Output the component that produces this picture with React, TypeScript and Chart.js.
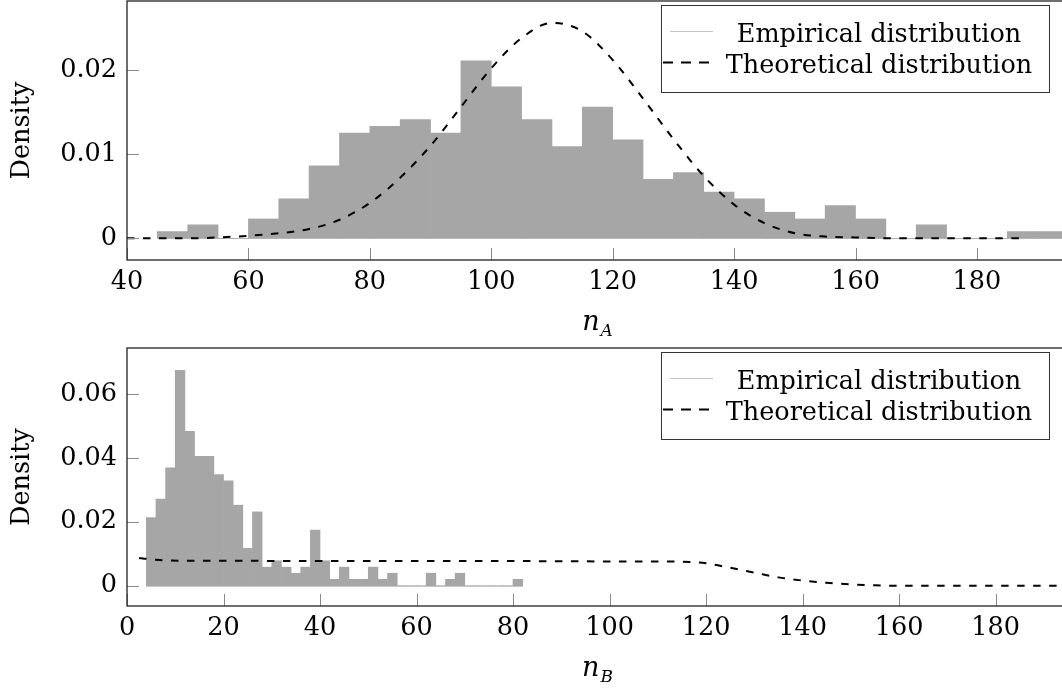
import React, { useEffect, useRef } from "react";
import { Chart, registerables } from "chart.js";

Chart.register(...registerables);

const FONT = "'DejaVu Serif', serif";
const FONT_SIZE = 25.5;

// ---- n_A : 5-wide bins ----
const binStartA = [45, 50, 55, 60, 65, 70, 75, 80, 85, 90, 95, 100, 105, 110, 115, 120, 125, 130, 135, 140, 145, 150, 155, 160, 165, 170, 175, 180, 185, 190];
const densityA = [0.0008, 0.0016, 0, 0.0023, 0.0047, 0.0086, 0.0125, 0.0133, 0.0141, 0.0125, 0.0211, 0.018, 0.0141, 0.0109, 0.0156, 0.0117, 0.007, 0.0078, 0.0055, 0.0047, 0.0031, 0.0023, 0.0039, 0.0023, 0, 0.0016, 0, 0, 0.0008, 0.0008];
const binWidthA = 5;
const theoryXA = [40, 45, 50, 55, 60, 65, 70, 75, 80, 85, 90, 95, 100, 105, 110, 115, 120, 125, 130, 135, 140, 145, 150, 155, 160, 165, 170, 175, 180, 188];
const theoryYA = [0, 0, 0, 0.0001, 0.0003, 0.0006, 0.0011, 0.0022, 0.0042, 0.0072, 0.011, 0.0156, 0.0202, 0.0238, 0.0256, 0.0246, 0.0212, 0.0166, 0.0118, 0.0074, 0.004, 0.0018, 0.0006, 0.0002, 0.0001, 0, 0, 0, 0, 0];
const xTicksA = [40, 60, 80, 100, 120, 140, 160, 180];
const yTicksA = [0, 0.01, 0.02];

// ---- n_B : 2-wide bins ----
const binStartB = [4, 6, 8, 10, 12, 14, 16, 18, 20, 22, 24, 26, 28, 30, 32, 34, 36, 38, 40, 42, 44, 46, 48, 50, 52, 54, 56, 58, 60, 62, 64, 66, 68, 70, 72, 74, 76, 78, 80];
const densityB = [0.0213, 0.0271, 0.0369, 0.0674, 0.0483, 0.0405, 0.0405, 0.0348, 0.0328, 0.0252, 0.0117, 0.0231, 0.0058, 0.0078, 0.0058, 0.0039, 0.0058, 0.0174, 0.0078, 0.002, 0.0058, 0.002, 0.002, 0.0058, 0.002, 0.0039, 0, 0, 0, 0.0039, 0, 0.002, 0.0039, 0, 0, 0, 0, 0, 0.002];
const binWidthB = 2;
const theoryXB = [2.5, 4, 6, 8, 12, 20, 40, 60, 80, 100, 110, 115, 120, 125, 130, 135, 140, 145, 150, 155, 160, 170, 180, 195];
const theoryYB = [0.0087, 0.0084, 0.0081, 0.0079, 0.0078, 0.0078, 0.0077, 0.0077, 0.0077, 0.0076, 0.0076, 0.0075, 0.007, 0.0056, 0.0041, 0.0026, 0.0016, 0.0009, 0.0004, 0.0001, 0, 0, 0, 0];
const xTicksB = [0, 20, 40, 60, 80, 100, 120, 140, 160, 180];
const yTicksB = [0, 0.02, 0.04, 0.06];

const legendLabels = ["Empirical distribution", "Theoretical distribution"];

const BAR_FILL = "#a6a6a6";
const BAR_EDGE = "#c8c8c8";
const DASH = [7.5, 8.5];

type PanelProps = {
  height: number;
  padTop: number;
  bins: number[];
  density: number[];
  binWidth: number;
  theoryX: number[];
  theoryY: number[];
  xTicks: number[];
  yTicks: number[];
  xMin: number;
  xMax: number;
  yMin: number;
  yMax: number;
  sub: string;
};

const panelPlugin = {
  id: "panel",
  beforeDatasetsDraw(chart: any, _args: any, opts: any) {
    const { ctx } = chart;
    const x = chart.scales.x;
    const y = chart.scales.y;
    const y0 = Math.round(y.getPixelForValue(0)) + 0.5;
    ctx.save();
    ctx.strokeStyle = BAR_EDGE;
    ctx.lineWidth = 1;
    ctx.beginPath();
    ctx.moveTo(x.getPixelForValue(opts.histFrom), y0);
    ctx.lineTo(x.getPixelForValue(opts.histTo), y0);
    ctx.stroke();
    ctx.restore();
  },
  afterDraw(chart: any, _args: any, opts: any) {
    const { ctx, chartArea } = chart;
    const { left, right, top, bottom } = chartArea;
    const x = chart.scales.x;
    const y = chart.scales.y;
    ctx.save();

    // inward tick marks
    ctx.strokeStyle = "#8a8a8a";
    ctx.lineWidth = 1;
    ctx.beginPath();
    for (const v of opts.xTicks) {
      const px = Math.round(x.getPixelForValue(v)) + 0.5;
      ctx.moveTo(px, bottom);
      ctx.lineTo(px, bottom - 12);
    }
    for (const v of opts.yTicks) {
      const py = Math.round(y.getPixelForValue(v)) + 0.5;
      ctx.moveTo(left, py);
      ctx.lineTo(left + 12, py);
    }
    ctx.stroke();

    // axis frame
    ctx.strokeStyle = "#222";
    ctx.lineWidth = 1.3;
    ctx.strokeRect(left, top, right - left, bottom - top);

    // y title
    ctx.fillStyle = "#000";
    ctx.font = `${FONT_SIZE}px ${FONT}`;
    ctx.save();
    ctx.translate(29, (top + bottom) / 2);
    ctx.rotate(-Math.PI / 2);
    ctx.textAlign = "center";
    ctx.textBaseline = "alphabetic";
    ctx.fillText("Density", 0, 0);
    ctx.restore();

    // x title: italic n with subscript
    const mainFont = `italic 27px ${FONT}`;
    const subFont = `italic 17px ${FONT}`;
    ctx.font = mainFont;
    const wn = ctx.measureText("n").width;
    ctx.font = subFont;
    const ws = ctx.measureText(opts.sub).width;
    const cx = (left + right) / 2;
    const sx = cx - (wn + ws + 1) / 2;
    ctx.textAlign = "left";
    ctx.textBaseline = "alphabetic";
    ctx.font = mainFont;
    ctx.fillText("n", sx, bottom + 70);
    ctx.font = subFont;
    ctx.fillText(opts.sub, sx + wn + 1, bottom + 76);

    // legend
    const lw = 388;
    const lh = 87;
    const lr = right - 19;
    const ll = lr - lw;
    const lt = top + 3.5;
    ctx.fillStyle = "#fff";
    ctx.fillRect(ll, lt, lw, lh);
    ctx.strokeStyle = "#333";
    ctx.lineWidth = 1;
    ctx.strokeRect(Math.round(ll) + 0.5, Math.round(lt) + 0.5, lw, lh);

    ctx.strokeStyle = "#c4c4c4";
    ctx.lineWidth = 1.2;
    ctx.beginPath();
    ctx.moveTo(ll + 9, lt + 27);
    ctx.lineTo(ll + 52, lt + 27);
    ctx.stroke();

    ctx.strokeStyle = "#000";
    ctx.lineWidth = 2;
    ctx.setLineDash([10, 8]);
    ctx.beginPath();
    ctx.moveTo(ll + 2, lt + 58);
    ctx.lineTo(ll + 53, lt + 58);
    ctx.stroke();
    ctx.setLineDash([]);

    ctx.fillStyle = "#000";
    ctx.font = `${FONT_SIZE}px ${FONT}`;
    ctx.textAlign = "center";
    ctx.fillText(legendLabels[0], ll + 218, lt + 37);
    ctx.fillText(legendLabels[1], ll + 218, lt + 68);

    ctx.restore();
  },
};

function buildConfig(p: PanelProps): any {
  const bars = p.bins.map((s, i) => ({ x: s + p.binWidth / 2, y: p.density[i] }));
  const curve = p.theoryX.map((v, i) => ({ x: v, y: p.theoryY[i] }));
  const tickFont = { family: FONT, size: FONT_SIZE };
  return {
    type: "bar",
    data: {
      datasets: [
        {
          type: "line",
          label: legendLabels[1],
          data: curve,
          borderColor: "#000",
          borderWidth: 2,
          borderDash: DASH,
          pointRadius: 0,
          fill: false,
          cubicInterpolationMode: "monotone",
          order: 1,
        },
        {
          type: "bar",
          label: legendLabels[0],
          data: bars,
          backgroundColor: BAR_FILL,
          borderWidth: 0,
          barPercentage: 1,
          categoryPercentage: 1,
          order: 2,
        },
      ],
    },
    options: {
      animation: false,
      responsive: false,
      events: [],
      layout: { padding: { top: p.padTop, right: 7, left: 0, bottom: 0 } },
      plugins: {
        legend: { display: false },
        tooltip: { enabled: false },
        panel: {
          xTicks: p.xTicks,
          yTicks: p.yTicks,
          sub: p.sub,
          histFrom: p.bins[0],
          histTo: p.bins[p.bins.length - 1] + p.binWidth,
        },
      },
      scales: {
        x: {
          type: "linear",
          min: p.xMin,
          max: p.xMax,
          offset: false,
          grid: { display: false, drawTicks: false },
          border: { display: false },
          ticks: {
            padding: 7,
            color: "#000",
            font: tickFont,
            maxRotation: 0,
            autoSkip: false,
            callback: (v: number) => String(v),
          },
          afterBuildTicks: (s: any) => {
            s.ticks = p.xTicks.map((v) => ({ value: v }));
          },
          afterFit: (s: any) => {
            s.height = p.height - 260;
            s.paddingLeft = 0;
            s.paddingRight = 0;
          },
        },
        y: {
          type: "linear",
          min: p.yMin,
          max: p.yMax,
          grid: { display: false, drawTicks: false },
          border: { display: false },
          ticks: {
            padding: 10,
            color: "#000",
            font: tickFont,
            callback: (v: number) => String(v),
          },
          afterBuildTicks: (s: any) => {
            s.ticks = p.yTicks.map((v) => ({ value: v }));
          },
          afterFit: (s: any) => {
            s.width = 127;
            s.paddingTop = 0;
            s.paddingBottom = 0;
          },
        },
      },
    },
    plugins: [panelPlugin],
  };
}

function Panel(props: PanelProps) {
  const ref = useRef<HTMLCanvasElement>(null);
  useEffect(() => {
    const chart = new Chart(ref.current as HTMLCanvasElement, buildConfig(props));
    return () => chart.destroy();
  }, []);
  return (
    <canvas
      ref={ref}
      width={1075}
      height={props.height}
      style={{ display: "block", width: 1075, height: props.height }}
    />
  );
}

export default function App() {
  return (
    <div
      style={{
        position: "absolute",
        left: 0,
        top: 0,
        width: 1062,
        height: 690,
        overflow: "hidden",
        background: "#fff",
      }}
    >
      <Panel
        height={346}
        padTop={1}
        bins={binStartA}
        density={densityA}
        binWidth={binWidthA}
        theoryX={theoryXA}
        theoryY={theoryYA}
        xTicks={xTicksA}
        yTicks={yTicksA}
        xMin={40}
        xMax={195}
        yMin={-0.00258}
        yMax={0.0282}
        sub="A"
      />
      <Panel
        height={344}
        padTop={2}
        bins={binStartB}
        density={densityB}
        binWidth={binWidthB}
        theoryX={theoryXB}
        theoryY={theoryYB}
        xTicks={xTicksB}
        yTicks={yTicksB}
        xMin={0}
        xMax={195}
        yMin={-0.00636}
        yMax={0.0744}
        sub="B"
      />
    </div>
  );
}
